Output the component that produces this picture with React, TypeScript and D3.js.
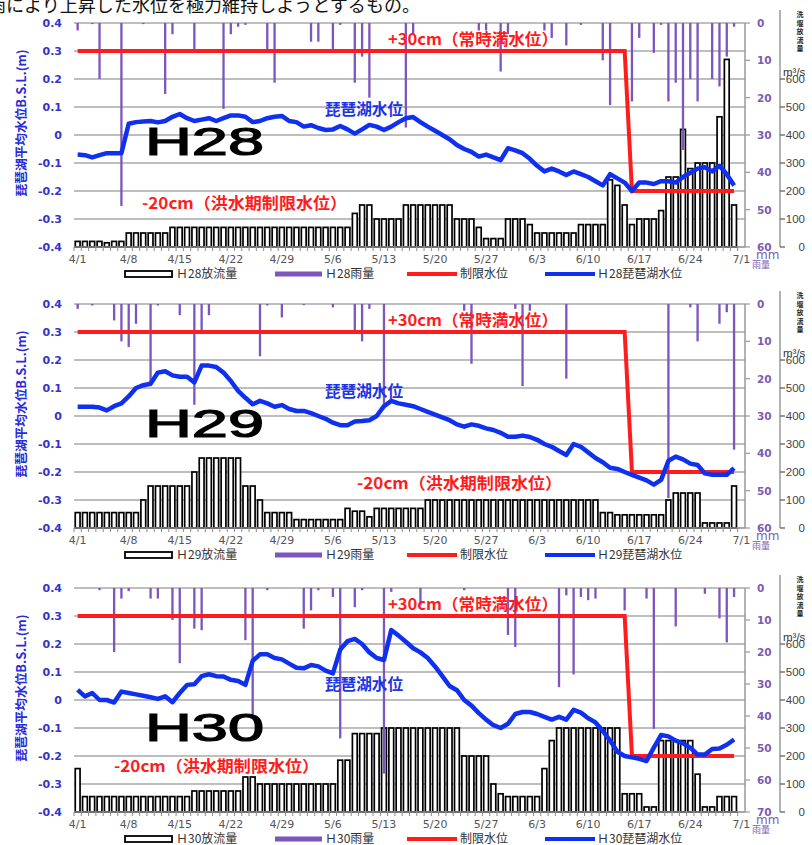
import * as d3 from "d3";

// 4/1 .. 7/1 (92 categories); data runs 4/1 .. 6/30
const days = d3.timeDay
  .range(new Date(2018, 3, 1), new Date(2018, 6, 2))
  .map((d) => `${d.getMonth() + 1}/${d.getDate()}`);

const tickLabels = ["4/1", "4/8", "4/15", "4/22", "4/29", "5/6", "5/13", "5/20", "5/27", "6/3", "6/10", "6/17", "6/24", "7/1"];
const levelTicks = [0.4, 0.3, 0.2, 0.1, 0, -0.1, -0.2, -0.3, -0.4];
const flowTicks = [0, 100, 200, 300, 400, 500, 600];
const limitPoints: [string, number][] = [["4/1", 0.3], ["6/15", 0.3], ["6/16", -0.2], ["6/30", -0.2]];

// H28
const h28Level = [
  -0.07, -0.072, -0.08, -0.072, -0.065, -0.065, -0.065, 0.04, 0.046, 0.048,
  0.05, 0.045, 0.05, 0.065, 0.075, 0.06, 0.05, 0.055, 0.06, 0.05,
  0.06, 0.07, 0.07, 0.065, 0.046, 0.05, 0.06, 0.065, 0.068, 0.05,
  0.046, 0.03, 0.035, 0.025, 0.018, 0.02, 0.032, 0.02, 0.005, 0.02,
  0.036, 0.03, 0.018, 0.03, 0.046, 0.06, 0.064, 0.046, 0.03, 0.015,
  0, -0.015, -0.036, -0.05, -0.06, -0.077, -0.07, -0.08, -0.09, -0.047,
  -0.055, -0.065, -0.085, -0.11, -0.13, -0.12, -0.13, -0.143, -0.13, -0.14,
  -0.15, -0.165, -0.18, -0.14, -0.155, -0.17, -0.2, -0.17, -0.17, -0.175,
  -0.165, -0.165, -0.17, -0.15, -0.135, -0.12, -0.115, -0.13, -0.11, -0.14,
  -0.18,
];
const h28Flow = [
  20, 20, 20, 20, 15, 20, 20, 50, 50, 50,
  50, 50, 50, 70, 70, 70, 70, 70, 70, 70,
  70, 70, 70, 70, 70, 70, 70, 70, 70, 70,
  70, 70, 70, 70, 70, 70, 70, 70, 120, 150,
  150, 100, 100, 100, 100, 150, 150, 150, 150, 150,
  150, 150, 100, 100, 100, 70, 30, 30, 30, 100,
  100, 100, 80, 50, 50, 50, 50, 50, 50, 80,
  80, 80, 80, 240, 220, 150, 80, 100, 100, 100,
  130, 250, 250, 420, 280, 300, 300, 300, 465, 670,
  150,
];
const h28Rain = [
  2, 0, 0.3, 15, 0, 0, 49, 0, 0, 0.3,
  0, 0, 19, 3, 0, 0, 7, 0, 0, 0,
  23, 3, 1, 0.5, 0, 0, 7, 16, 0, 0,
  0, 0, 5, 5, 0, 8, 0.5, 0, 16, 9,
  20, 0, 0, 0, 0, 28, 3, 0, 0, 0,
  0, 0, 0, 0, 0, 2, 2, 0, 13, 3,
  0, 0, 0, 0, 2, 4, 0, 6, 0, 0.5,
  0, 0, 10, 22, 0, 0, 21, 4, 0, 8,
  0.5, 21, 16, 34, 15, 21, 0, 15, 17, 9,
  1,
];

// H29
const h29Level = [
  0.033, 0.033, 0.033, 0.03, 0.02, 0.035, 0.045, 0.07, 0.1, 0.11,
  0.115, 0.155, 0.16, 0.145, 0.14, 0.14, 0.12, 0.18, 0.18, 0.175,
  0.155, 0.125, 0.09, 0.065, 0.042, 0.054, 0.045, 0.033, 0.039, 0.025,
  0.018, 0.018, 0.01, 0, -0.01, -0.024, -0.033, -0.033, -0.02, -0.018,
  -0.015, 0, 0.035, 0.054, 0.045, 0.04, 0.035, 0.025, 0.015, 0.005,
  -0.005, -0.015, -0.03, -0.038, -0.03, -0.035, -0.044, -0.05, -0.06, -0.074,
  -0.074, -0.07, -0.075, -0.085, -0.1, -0.11, -0.125, -0.139, -0.1, -0.11,
  -0.13, -0.15, -0.165, -0.185, -0.189, -0.2, -0.21, -0.22, -0.23, -0.245,
  -0.228, -0.16, -0.145, -0.155, -0.17, -0.175, -0.205, -0.21, -0.21, -0.21,
  -0.186,
];
const h29Flow = [
  55, 55, 55, 55, 55, 55, 55, 55, 55, 100,
  150, 150, 150, 150, 150, 150, 200, 250, 250, 250,
  250, 250, 250, 150, 150, 100, 55, 55, 55, 55,
  30, 30, 30, 30, 30, 30, 30, 70, 60, 60,
  40, 70, 70, 70, 70, 70, 70, 70, 100, 100,
  100, 100, 100, 100, 100, 100, 100, 100, 100, 100,
  100, 100, 100, 100, 100, 100, 100, 100, 100, 100,
  100, 100, 55, 55, 47, 47, 47, 47, 47, 47,
  47, 100, 125, 125, 125, 125, 18, 18, 18, 18,
  150,
];
const h29Rain = [
  1.3, 0, 0.4, 0, 0, 4.4, 10, 11.5, 5.3, 0,
  22, 0.4, 0, 0, 3, 0, 27, 7, 3, 0,
  0, 0, 0, 0, 0, 14, 0.4, 0, 3.6, 0,
  0, 0.3, 0, 0, 0, 0.9, 0, 0, 7, 10,
  1.3, 0, 28, 0, 0, 0, 0, 0, 0, 0,
  0, 0, 0, 1.8, 16, 0, 0, 0, 0, 0,
  1.3, 22, 1.8, 0, 0, 0, 0, 20, 0, 0,
  0, 0, 0, 0, 0, 0, 0, 0, 0, 0,
  0, 52, 0, 0, 0.9, 10, 0, 0, 5.3, 2.2,
  39,
];

// H30
const h30Level = [
  0.036, 0.013, 0.025, 0, 0, -0.009, 0.03, 0.025, 0.02, 0.015,
  0.01, 0.004, 0.013, -0.008, 0.025, 0.054, 0.056, 0.085, 0.092, 0.085,
  0.084, 0.072, 0.068, 0.054, 0.14, 0.163, 0.163, 0.15, 0.145, 0.13,
  0.115, 0.113, 0.125, 0.12, 0.105, 0.095, 0.18, 0.21, 0.218, 0.2,
  0.17, 0.15, 0.143, 0.25, 0.23, 0.208, 0.185, 0.17, 0.15, 0.12,
  0.085, 0.05, 0.035, 0, -0.02, -0.047, -0.07, -0.09, -0.1, -0.085,
  -0.05, -0.043, -0.043, -0.05, -0.06, -0.07, -0.06, -0.07, -0.035, -0.045,
  -0.065, -0.08, -0.11, -0.145, -0.185, -0.2, -0.205, -0.21, -0.218, -0.17,
  -0.125, -0.13, -0.145, -0.155, -0.17, -0.195, -0.195, -0.175, -0.173, -0.16,
  -0.141,
];
const h30Flow = [
  155, 55, 55, 55, 55, 55, 55, 55, 55, 55,
  55, 55, 55, 55, 55, 55, 75, 75, 75, 75,
  75, 75, 75, 125, 125, 100, 100, 100, 100, 100,
  100, 100, 100, 100, 100, 100, 185, 185, 280, 280,
  280, 280, 300, 300, 300, 300, 300, 300, 300, 300,
  300, 300, 300, 200, 200, 200, 200, 100, 65, 55,
  55, 55, 55, 55, 155, 255, 300, 300, 300, 300,
  300, 300, 300, 300, 300, 65, 65, 65, 18, 18,
  255, 255, 255, 255, 255, 135, 18, 18, 55, 55,
  55,
];
const h30Rain = [
  0, 0, 0, 0.7, 0, 20, 3.3, 1, 0, 0,
  3.3, 3.3, 0, 10, 23.5, 0, 12.7, 13.2, 0, 0,
  0, 0, 0, 16.3, 39.6, 0, 0.7, 0, 0, 0,
  0, 12.7, 7, 0.7, 0, 2.8, 47, 0, 6, 0.7,
  0, 0, 58, 1.2, 0, 0, 0, 5.4, 0, 0,
  0, 0, 0, 0.7, 0, 0, 0, 0, 0, 14.7,
  18.4, 0, 0, 0, 0, 0, 31, 2.3, 27, 2.8,
  3.8, 3.3, 0, 0, 0, 7, 0, 0, 3.3, 44,
  0, 0, 12, 0, 0, 0, 1.8, 0, 9.5, 17,
  2.8,
];

const panels = [
  { year: "H28", level: h28Level, flow: h28Flow, rain: h28Rain, rainMax: 60, top: 23, lowX: 142, lowDy: 186, lakeDy: 92, yearDy: 132 },
  { year: "H29", level: h29Level, flow: h29Flow, rain: h29Rain, rainMax: 60, top: 304, lowX: 357, lowDy: 185, lakeDy: 93, yearDy: 133 },
  { year: "H30", level: h30Level, flow: h30Flow, rain: h30Rain, rainMax: 70, top: 588, lowX: 114, lowDy: 184, lakeDy: 102, yearDy: 153 },
];

const X0 = 74;
const X1 = 745;
const PH = 224;
const JP = "'Noto Sans CJK JP', sans-serif";
const PURPLE = "#7c55bd";
const BLUE = "#1030f0";
const RED = "#ff1c1c";

function Panel({ p }: { p: (typeof panels)[number] }) {
  const top = p.top;
  const bottom = top + PH;
  const x = d3.scaleBand<string>().domain(days).range([X0, X1]);
  const bw = x.bandwidth();
  const cx = (d: string) => (x(d) ?? 0) + bw / 2;
  const yL = d3.scaleLinear().domain([-0.4, 0.4]).range([bottom, top]);
  const yF = d3.scaleLinear().domain([0, 800]).range([bottom, top]);
  const yR = d3.scaleLinear().domain([0, p.rainMax]).range([top, bottom]);
  const rainTicks = d3.range(0, p.rainMax + 1, 10);

  const levelPts = p.level.map((v, i) => [days[i], v] as [string, number]);
  const line = d3
    .line<[string, number]>()
    .x((d) => cx(d[0]))
    .y((d) => yL(d[1]));

  const fw = 4.8;
  const rw = 2.3;
  const n = p.year.slice(1);
  const ly = bottom + 27;

  return (
    <g>
      {/* grid */}
      {levelTicks.slice(0, -1).map((t) => (
        <line key={t} x1={X0} x2={X1} y1={yL(t)} y2={yL(t)} stroke="#a8a8a8" strokeWidth={1.5} />
      ))}
      {/* outflow */}
      {p.flow.map((v, i) => (
        <rect
          key={"f" + i}
          x={cx(days[i]) - fw / 2}
          y={yF(v)}
          width={fw}
          height={bottom - yF(v)}
          fill="#fff"
          stroke="#000"
          strokeWidth={1.7}
        />
      ))}
      {/* rain */}
      {p.rain.map((v, i) =>
        v > 0 ? (
          <rect key={"r" + i} x={cx(days[i]) - rw / 2} y={top} width={rw} height={yR(v) - top} fill={PURPLE} />
        ) : null
      )}
      {/* x axis */}
      <line x1={X0} x2={X1} y1={bottom} y2={bottom} stroke="#8a8a8a" strokeWidth={1.5} />
      {days.map((d) => (
        <line key={"t" + d} x1={x(d)} x2={x(d)} y1={bottom} y2={bottom + 4} stroke="#8a8a8a" strokeWidth={1} />
      ))}
      {tickLabels.map((d) => (
        <text key={"l" + d} x={cx(d)} y={bottom + 16} textAnchor="middle" fontSize={11} fontFamily="'DejaVu Sans'" fill="#555">
          {d}
        </text>
      ))}
      {/* left axis labels */}
      {levelTicks.map((t) => (
        <text key={"y" + t} x={62} y={yL(t) + 4} textAnchor="end" fontSize={11} fontWeight="bold" fontFamily="'DejaVu Sans'" fill="#3434c8">
          {t === 0 ? "0" : t.toFixed(1)}
        </text>
      ))}
      <text
        transform={`translate(26,${top + 100}) rotate(-90)`}
        textAnchor="middle"
        fontSize={12.5}
        fontWeight="bold"
        fontFamily={JP}
        fill="#2a2ad8"
        textLength={147}
        lengthAdjust="spacingAndGlyphs"
      >
        琵琶湖平均水位B.S.L.(m)
      </text>
      {/* rain axis */}
      <line x1={X1} x2={X1} y1={top} y2={bottom} stroke="#999" strokeWidth={1.5} />
      {rainTicks.map((t) => (
        <g key={"ra" + t}>
          <line x1={X1} x2={X1 + 5} y1={yR(t)} y2={yR(t)} stroke="#999" strokeWidth={1.2} />
          <text x={757} y={yR(t) + 4} fontSize={10.5} fontWeight="bold" fontFamily="'DejaVu Sans'" fill="#7b5cb0">
            {t}
          </text>
        </g>
      ))}
      <text x={756} y={bottom + 12} fontSize={12} fontFamily="'DejaVu Sans'" fill="#7b5cb0">
        mm
      </text>
      <text x={752} y={bottom + 21} fontSize={9} fontFamily={JP} fill="#7b5cb0">
        雨量
      </text>
      {/* outflow axis */}
      <line x1={780} x2={780} y1={top - 13} y2={bottom} stroke="#999" strokeWidth={1.5} />
      {flowTicks.map((t) => (
        <g key={"fa" + t}>
          <line x1={780} x2={785} y1={yF(t)} y2={yF(t)} stroke="#555" strokeWidth={1.2} />
          <text x={805} y={yF(t) + 4} textAnchor="end" fontSize={11.5} fontFamily="'Liberation Sans'" fill="#444">
            {t}
          </text>
        </g>
      ))}
      {"洗堰放流量".split("").map((c, i) => (
        <text key={"c" + i} x={800} y={top - 6 + i * 8.5} textAnchor="middle" fontSize={7} fontWeight="bold" fontFamily={JP} fill="#222">
          {c}
        </text>
      ))}
      <text x={783} y={top + 53} fontSize={11.5} fontFamily="'Liberation Sans'" fill="#333">
        m³/s
      </text>
      {/* limit and lake level */}
      <path d={line(limitPoints) ?? ""} fill="none" stroke={RED} strokeWidth={4} />
      <path d={line(levelPts) ?? ""} fill="none" stroke={BLUE} strokeWidth={4.5} strokeLinejoin="round" />
      {/* annotations */}
      <text x={388} y={top + 22} fontSize={16} fontWeight="bold" fontFamily={JP} fill={RED} textLength={170} lengthAdjust="spacingAndGlyphs">
        +30cm（常時満水位）
      </text>
      <text x={p.lowX} y={top + p.lowDy} fontSize={16} fontWeight="bold" fontFamily={JP} fill={RED} textLength={205} lengthAdjust="spacingAndGlyphs">
        -20cm（洪水期制限水位）
      </text>
      <text x={325} y={top + p.lakeDy} fontSize={15.5} fontWeight="bold" fontFamily={JP} fill="#1a34e6" textLength={78} lengthAdjust="spacingAndGlyphs">
        琵琶湖水位
      </text>
      <text
        x={145}
        y={top + p.yearDy}
        fontSize={38}
        fontFamily="'Liberation Sans'"
        fill="#000"
        stroke="#000"
        strokeWidth={1.2}
        textLength={119}
        lengthAdjust="spacingAndGlyphs"
      >
        {p.year}
      </text>
      {/* legend */}
      <rect x={125} y={ly - 3} width={47} height={6} fill="#fff" stroke="#000" strokeWidth={1.8} />
      <text x={176} y={ly + 4} fontSize={12} fontFamily={JP} fill="#333">
        {`Ｈ${n}放流量`}
      </text>
      <line x1={275} x2={322} y1={ly} y2={ly} stroke={PURPLE} strokeWidth={5} />
      <text x={325} y={ly + 4} fontSize={12} fontFamily={JP} fill="#333">
        {`Ｈ${n}雨量`}
      </text>
      <line x1={407} x2={457} y1={ly} y2={ly} stroke={RED} strokeWidth={4} />
      <text x={460} y={ly + 4} fontSize={12} fontFamily={JP} fill="#333">
        制限水位
      </text>
      <line x1={545} x2={595} y1={ly} y2={ly} stroke={BLUE} strokeWidth={4} />
      <text x={597} y={ly + 4} fontSize={12} fontFamily={JP} fill="#333">
        {`Ｈ${n}琵琶湖水位`}
      </text>
    </g>
  );
}

export default function App() {
  return (
    <svg width={812} height={845} style={{ display: "block", position: "absolute", left: 0, top: 0, background: "#fff" }}>
      <rect width={812} height={845} fill="#fff" />
      <text x={-12} y={12} fontSize={18} fontFamily={JP} fill="#111" textLength={432} lengthAdjust="spacingAndGlyphs">
        雨により上昇した水位を極力維持しようとするもの。
      </text>
      {panels.map((p) => (
        <Panel key={p.year} p={p} />
      ))}
    </svg>
  );
}
